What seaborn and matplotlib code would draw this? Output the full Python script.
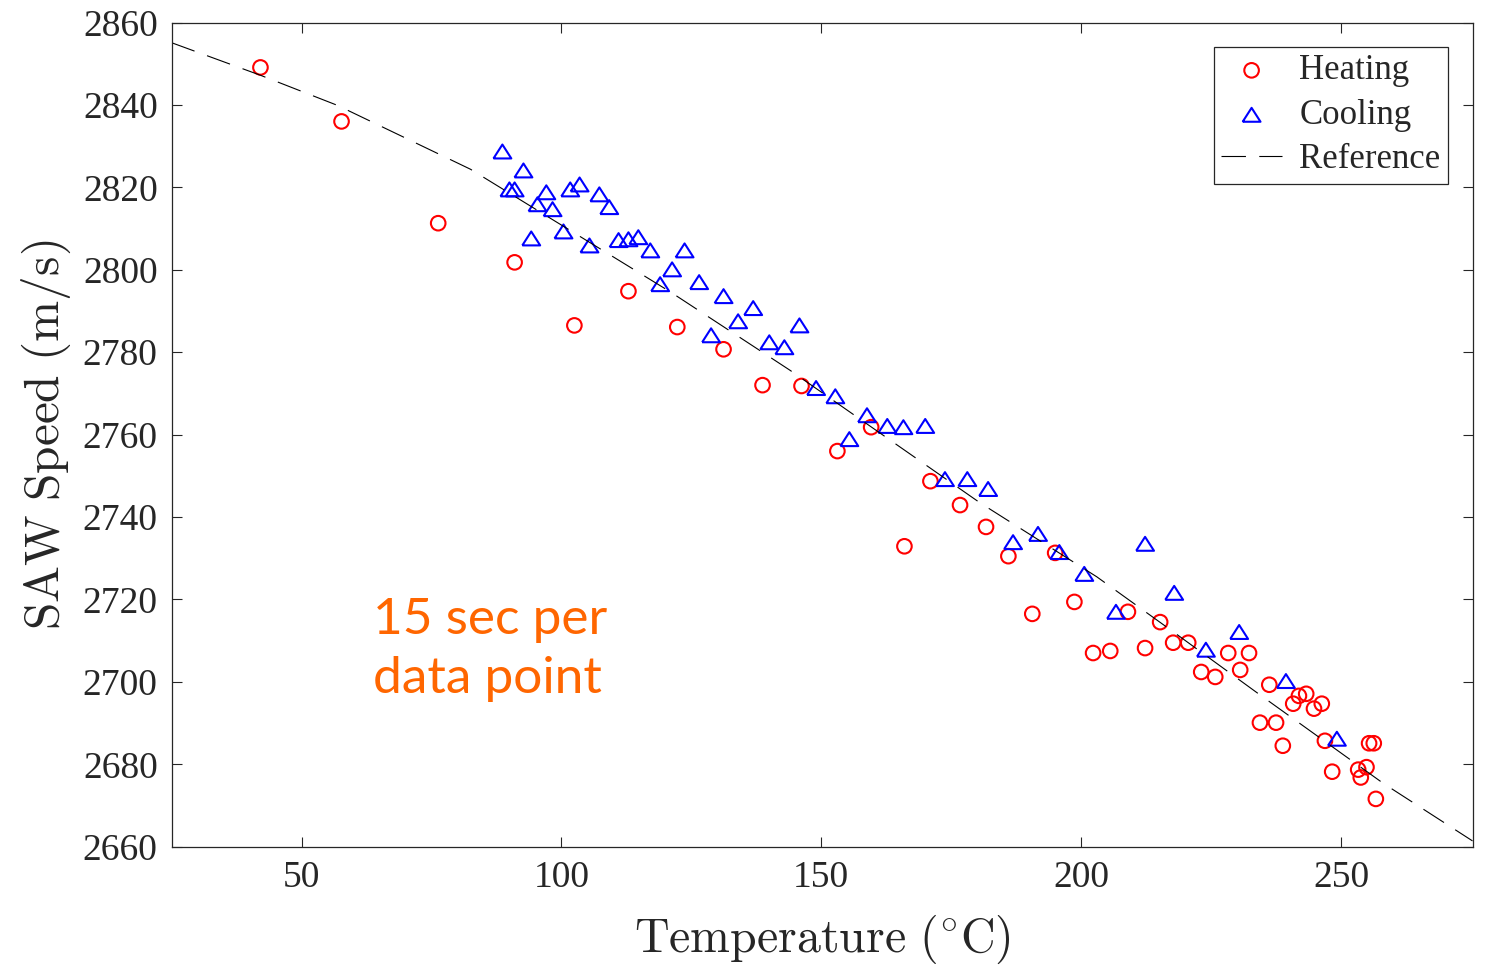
import pandas as pd
import seaborn as sns
import matplotlib
matplotlib.use('Agg')
import matplotlib.pyplot as plt

# heating run (red circles)
heat_T = [42.1, 57.7, 76.3, 91.0, 102.5, 112.9, 122.3, 131.2, 138.7, 146.2,
          153.1, 159.6, 166.0, 171.0, 176.7, 181.7, 186.0, 190.6, 195.0, 198.7,
          202.3, 205.6, 209.0, 212.3, 215.2, 217.7, 220.6, 223.1, 225.8, 228.3,
          230.6, 232.3, 234.4, 236.2, 237.5, 238.8, 240.8, 241.9, 243.3, 244.8,
          246.3, 246.9, 248.3, 253.3, 253.8, 254.9, 255.4, 256.3, 256.7]
heat_V = [2849.1, 2836.0, 2811.3, 2801.8, 2786.5, 2794.8, 2786.1, 2780.7, 2772.0, 2771.8,
          2756.0, 2761.8, 2732.9, 2748.7, 2742.9, 2737.6, 2730.5, 2716.5, 2731.3, 2719.4,
          2707.0, 2707.5, 2717.0, 2708.2, 2714.5, 2709.5, 2709.5, 2702.4, 2701.2, 2707.0,
          2702.9, 2707.0, 2690.1, 2699.3, 2690.1, 2684.5, 2694.7, 2696.6, 2697.1, 2693.5,
          2694.7, 2685.7, 2678.2, 2678.7, 2676.8, 2679.3, 2685.1, 2685.1, 2671.6]

# cooling run (blue triangles)
cool_T = [88.65, 92.7, 90.0, 91.0, 97.1, 95.4, 98.3, 101.7, 103.5, 107.3,
          109.2, 94.2, 100.4, 105.4, 111.0, 112.9, 114.8, 117.1, 123.7, 121.3,
          119.0, 126.5, 131.2, 136.9, 134.0, 128.8, 140.0, 142.9, 145.8, 149.0,
          152.7, 158.8, 155.4, 162.7, 165.8, 170.0, 173.8, 178.1, 182.1, 186.9,
          191.7, 195.8, 200.6, 206.7, 212.3, 217.9, 224.0, 230.4, 239.4, 249.2]
cool_V = [2828.7, 2824.1, 2819.5, 2819.5, 2818.8, 2815.9, 2814.7, 2819.5, 2820.7, 2818.3,
          2815.2, 2807.6, 2809.3, 2805.9, 2807.2, 2807.4, 2807.9, 2804.7, 2804.7, 2800.1,
          2796.5, 2797.0, 2793.6, 2790.7, 2787.5, 2784.1, 2782.4, 2781.2, 2786.5, 2771.3,
          2769.3, 2764.7, 2758.9, 2762.1, 2761.8, 2762.1, 2749.2, 2749.2, 2746.8, 2733.9,
          2735.9, 2731.5, 2726.2, 2717.0, 2733.5, 2721.6, 2707.8, 2712.1, 2700.2, 2686.2]

# reference curve
ref_T = [25.0, 42.1, 56.9, 82.5, 121.0, 144.0, 180.6, 203.0, 218.1, 233.8, 258.1, 275.3]
ref_V = [2855.1, 2847.2, 2839.9, 2824.4, 2794.6, 2775.6, 2743.4, 2725.5, 2711.8, 2697.4, 2675.4, 2661.4]

heat_df = pd.DataFrame({'T': heat_T, 'V': heat_V})
cool_df = pd.DataFrame({'T': cool_T, 'V': cool_V})
ref_df = pd.DataFrame({'T': ref_T, 'V': ref_V})

sns.set_style('ticks')
plt.rcParams['font.family'] = ['Liberation Serif', 'DejaVu Serif']
plt.rcParams['mathtext.fontset'] = 'cm'

fig = plt.figure(figsize=(14.88, 9.66), dpi=100)
ax = fig.add_axes([0.1153, 0.1235, 0.8743, 0.8532])

tri = [(-1, -0.78), (1, -0.78), (0, 0.78), (-1, -0.78)]

sns.scatterplot(ax=ax, data=heat_df, x='T', y='V', marker='o', s=110,
                color='red', fc='none', ec='red', linewidth=1.5, label='Heating')
sns.scatterplot(ax=ax, data=cool_df, x='T', y='V', marker=tri, s=165,
                color='blue', fc='none', ec='blue', linewidth=1.5, label='Cooling')
sns.lineplot(ax=ax, data=ref_df, x='T', y='V', color='black', linewidth=0.8,
             linestyle=(0, (22, 12)), label='Reference')

ax.set_xlim(25, 275.3)
ax.set_ylim(2660, 2860)
ax.set_xticks([50, 100, 150, 200, 250])
ax.set_yticks(list(range(2660, 2861, 20)))

for sp in ax.spines.values():
    sp.set_visible(True)
    sp.set_color('#262626')
    sp.set_linewidth(0.9)
ax.tick_params(direction='in', length=7, width=0.8, top=True, right=True,
               labelsize=27, colors='#262626', pad=10)

ax.set_xlabel(r'$\mathrm{Temperature\ (^{\circ}C)}$', fontsize=34.5, color='#262626', labelpad=13)
ax.set_ylabel(r'$\mathrm{SAW\ Speed\ (m/s)}$', fontsize=35.5, color='#262626', labelpad=7)

# annotation (baseline of the last line)
ax.text(0.155, 0.1865, '15 sec per\ndata point', transform=ax.transAxes,
        fontsize=37, color='#FF6600', family=['Lato', 'DejaVu Sans'],
        ha='left', va='baseline', linespacing=1.34)

leg = ax.legend(loc='upper right', fontsize=25, frameon=True, fancybox=False,
                framealpha=1, edgecolor='#262626', borderaxespad=0.7, borderpad=0.22,
                handlelength=1.75, handletextpad=0.5, labelspacing=0.33)
leg.get_frame().set_linewidth(0.9)

fig.savefig('out.png', dpi=100)
